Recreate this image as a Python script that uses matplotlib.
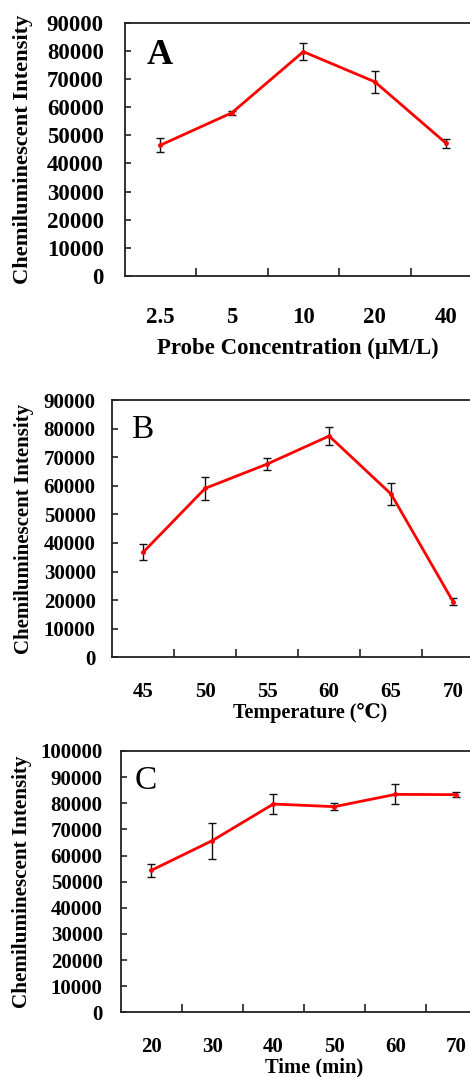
import matplotlib
matplotlib.use('Agg')
import matplotlib.pyplot as plt
import numpy as np

plt.rcParams['font.family'] = ['Liberation Serif', 'DejaVu Serif']

W, H = 470, 1077

# ---- data ----
conc_labels = ['2.5', '5', '10', '20', '40']
conc_vals = [46500, 58000, 79700, 69000, 47100]
conc_err = [2600, 800, 3000, 3900, 1500]

temp_labels = ['45', '50', '55', '60', '65', '70']
temp_vals = [36800, 59100, 67600, 77400, 57100, 19500]
temp_err = [2800, 4000, 2000, 3200, 4000, 1200]

time_labels = ['20', '30', '40', '50', '60', '70']
time_vals = [54300, 65700, 79700, 78700, 83400, 83300]
time_err = [2400, 6900, 4000, 1400, 3800, 1000]


def px_axes(fig, left, top, right, bottom):
    return fig.add_axes([left / W, 1 - bottom / H, (right - left) / W, (bottom - top) / H])


def panel(fig, box, labels, vals, errs, ymax, letter, letter_xy, letter_bold, xlabel, xlabel_xy,
          tick_fs, ylab_fs, xlab_fs, letter_fs, ypad, xpad, ylab_x):
    ax = px_axes(fig, *box)
    n = len(labels)
    pos = np.arange(n) + 0.5
    ax.errorbar(pos, vals, yerr=errs, color='red', lw=2, marker='o', ms=2.5,
                ecolor='#111111', elinewidth=1, capsize=3, capthick=1, zorder=3)
    ax.set_xlim(0, n)
    ax.set_ylim(0, ymax)
    ax.set_yticks(np.arange(0, ymax + 1, 10000))
    ax.set_yticklabels([str(int(v)) for v in np.arange(0, ymax + 1, 10000)],
                       fontsize=tick_fs, fontweight='bold')
    # category boundaries as ticks, labels at centres
    ax.set_xticks(np.arange(1, n))
    ax.set_xticklabels([])
    ax.set_xticks(pos, minor=True)
    ax.set_xticklabels(labels, minor=True, fontsize=tick_fs, fontweight='bold')
    ax.tick_params(axis='x', which='major', direction='in', length=6, width=1.2, color='#222222')
    ax.tick_params(axis='x', which='minor', length=0, pad=xpad)
    ax.tick_params(axis='y', direction='in', length=4, width=1.2, pad=ypad, color='#222222')
    for s in ax.spines.values():
        s.set_linewidth(1.3)
        s.set_color('#222222')
    ax.text(letter_xy[0] / W, 1 - letter_xy[1] / H, letter, transform=fig.transFigure,
            fontsize=letter_fs, ha='center', va='center',
            fontweight='bold' if letter_bold else 'normal')
    fig.text(xlabel_xy[0] / W, 1 - xlabel_xy[1] / H, xlabel, fontsize=xlab_fs,
             fontweight='bold', ha='center', va='center')
    cy = (box[1] + box[3]) / 2
    fig.text(ylab_x / W, 1 - cy / H, 'Chemiluminescent Intensity', rotation=90,
             fontsize=ylab_fs, fontweight='bold', ha='center', va='center')
    return ax


fig = plt.figure(figsize=(W / 100, H / 100), dpi=100)

panel(fig, (124.7, 22.7, 482, 276), conc_labels, conc_vals, conc_err, 90000,
      'A', (160, 56), True, 'Probe Concentration (\u03bcM/L)', (298, 348),
      16.5, 16.2, 16.5, 26, 15, 22, 23)
panel(fig, (112.3, 400, 484, 657.3), temp_labels, temp_vals, temp_err, 90000,
      'B', (142, 430), False, 'Temperature (\u2103)', (310, 713),
      15, 15, 14.5, 24, 12, 18, 24)
panel(fig, (120.7, 751, 487, 1012.3), time_labels, time_vals, time_err, 100000,
      'C', (146, 781), False, 'Time (min)', (314, 1067),
      15, 15.2, 14.8, 24, 13, 18, 22)

fig.savefig('out.png', dpi=100)
